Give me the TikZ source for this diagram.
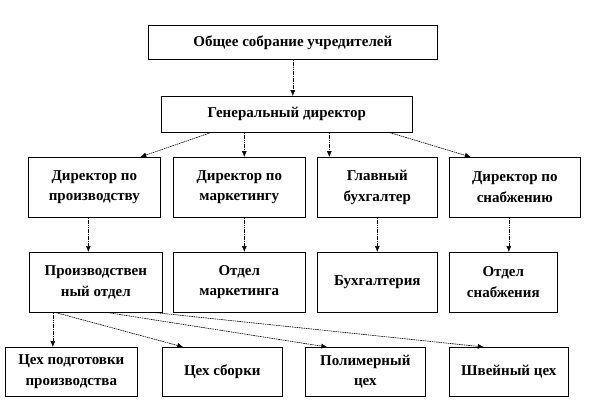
\documentclass[tikz,border=0pt]{standalone}
\usepackage{fontspec}
\setmainfont{Liberation Serif}
\usepackage{tikz}
\usetikzlibrary{arrows.meta}

\begin{document}
\begin{tikzpicture}[x=1pt, y=-1pt,
        box/.style={draw, line width=0.6pt, anchor=north west, inner sep=0pt, align=center,
            font=\bfseries\fontsize{15}{20.5}\selectfont},
        arr/.style={line width=0.6pt, dash pattern=on 1.6pt off 0.7pt, -{Latex[length=6pt, width=5pt]}}]
        \useasboundingbox (0, 0) rectangle (612, 408);

        \node[box, minimum width=289, minimum height=34] at (148, 25) (ob) {Общее собрание учредителей};
        \node[box, minimum width=251, minimum height=36] at (161, 96) (gd) {Генеральный директор};

        \node[box, minimum width=132, minimum height=60] at (28, 157) (dp) {Директор по\\производству};
        \node[box, minimum width=132, minimum height=60] at (173, 157) (dm) {Директор по\\маркетингу};
        \node[box, minimum width=120, minimum height=60] at (317, 157) (gb) {Главный\\бухгалтер};
        \node[box, minimum width=131, minimum height=60] at (449, 157) (ds) {Директор по\\снабжению};

        \node[box, minimum width=133, minimum height=60] at (29, 252) (po) {Производствен\\ный отдел};
        \node[box, minimum width=132, minimum height=60] at (173, 252) (om) {Отдел\\маркетинга};
        \node[box, minimum width=120, minimum height=60] at (317, 252) (bu) {Бухгалтерия};
        \node[box, minimum width=108, minimum height=60] at (449, 252) (os) {Отдел\\снабжения};

        \node[box, minimum width=132, minimum height=49] at (5, 347) (cp) {Цех подготовки\\производства};
        \node[box, minimum width=120, minimum height=49] at (162, 347) (cs) {Цех сборки};
        \node[box, minimum width=120, minimum height=49] at (305, 347) (pc) {Полимерный\\цех};
        \node[box, minimum width=119, minimum height=49] at (449, 347) (sc) {Швейный цех};

        % from the founders down
        \draw[arr] (ob.south) -- (ob.south |- gd.north);

        % general director to the four directors
        \draw[arr] ([xshift=-76]gd.south) -- ([xshift=46]dp.north);
        \draw[arr] ([xshift=5]dm.north |- gd.south) -- ([xshift=5]dm.north);
        \draw[arr] ([xshift=-48]gb.north |- gd.south) -- ([xshift=-48]gb.north);
        \draw[arr] ([xshift=103]gd.south) -- ([xshift=-44]ds.north);

        % directors to departments
        \draw[arr] ([xshift=-6]dp.south) -- ([xshift=-6]dp.south |- po.north);
        \draw[arr] ([xshift=5]dm.south) -- ([xshift=5]dm.south |- om.north);
        \draw[arr] (gb.south) -- (bu.north);
        \draw[arr] ([xshift=-6]ds.south) -- ([xshift=-6]ds.south |- os.north);

        % production department to the shops
        \draw[arr] ([xshift=-43]po.south) -- ([xshift=-43]po.south |- cp.north);
        \draw[arr] ([xshift=-40]po.south) -- ([xshift=-39]cs.north);
        \draw[arr] ([xshift=12]po.south) -- ([xshift=-38]pc.north);
        \draw[arr] ([xshift=59]po.south) -- ([xshift=-25]sc.north);
\end{tikzpicture}
\end{document}
